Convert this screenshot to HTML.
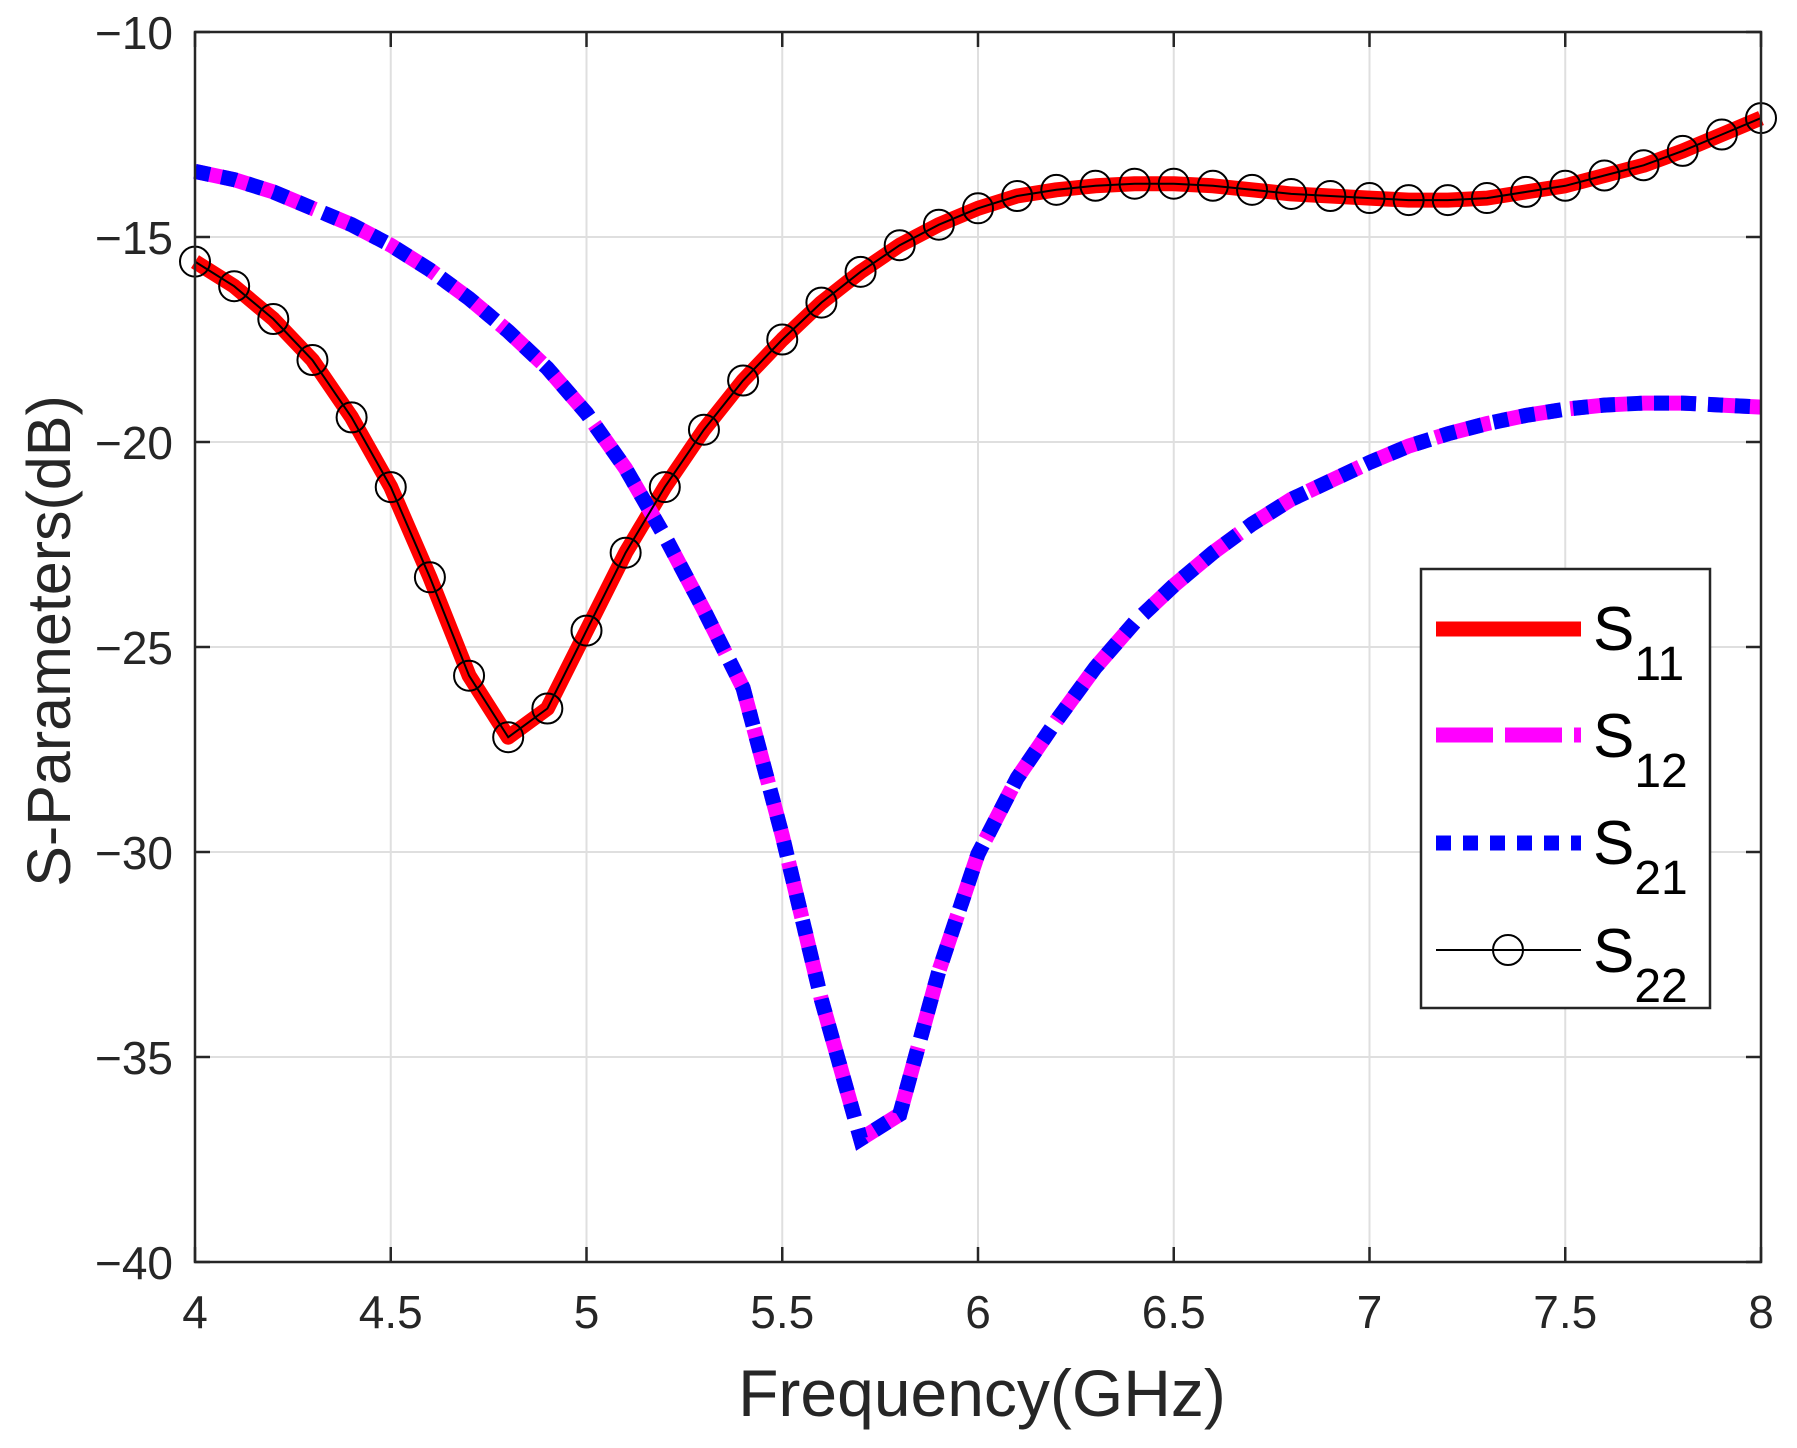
<!DOCTYPE html>
<html><head><meta charset="utf-8"><style>
body{margin:0;background:#fff}
svg{display:block;font-family:"Liberation Sans",Arial,sans-serif}
</style></head><body>
<svg id="chart" width="1797" height="1448" xmlns="http://www.w3.org/2000/svg">
<rect width="1797" height="1448" fill="#fff"/>
<g id="grid"></g>
<g id="series"></g>
<rect x="195" y="32" width="1566" height="1230" fill="none" stroke="#262626" stroke-width="2.5"/>
<g id="ticks"></g>
<text x="982" y="1416" font-size="66" text-anchor="middle" fill="#262626">Frequency(GHz)</text>
<text transform="translate(70,641) rotate(-90)" font-size="61" text-anchor="middle" fill="#262626">S-Parameters(dB)</text>
<g>
<rect x="1421" y="569" width="289" height="439" fill="#fff" stroke="#262626" stroke-width="2.5"/>
<g>
<line x1="1436" y1="629" x2="1581" y2="629" stroke="#ff0000" stroke-width="15"/>
<text x="1593" y="650" font-size="62" fill="#000">S<tspan font-size="48" dy="30">11</tspan></text></g>
<g>
<line x1="1436" y1="735" x2="1581" y2="735" stroke="#ff00ff" stroke-width="15" stroke-dasharray="57,12"/>
<text x="1593" y="757" font-size="62" fill="#000">S<tspan font-size="48" dy="30">12</tspan></text></g>
<g>
<line x1="1436" y1="843" x2="1581" y2="843" stroke="#0000ff" stroke-width="15" stroke-dasharray="15,12"/>
<text x="1593" y="864" font-size="62" fill="#000">S<tspan font-size="48" dy="30">21</tspan></text></g>
<g>
<line x1="1436" y1="950" x2="1581" y2="950" stroke="#000" stroke-width="2"/>
<circle cx="1508" cy="950" r="15" fill="none" stroke="#000" stroke-width="2"/>
<text x="1593" y="972" font-size="62" fill="#000">S<tspan font-size="48" dy="30">22</tspan></text></g>
</g>
</svg>
<script>
const freqs = [4.0,4.1,4.2,4.3,4.4,4.5,4.6,4.7,4.8,4.9,5.0,5.1,5.2,5.3,5.4,5.5,5.6,5.7,5.8,5.9,6.0,6.1,6.2,6.3,6.4,6.5,6.6,6.7,6.8,6.9,7.0,7.1,7.2,7.3,7.4,7.5,7.6,7.7,7.8,7.9,8.0];
const s11 = [-15.6,-16.2,-17.0,-18.0,-19.4,-21.1,-23.3,-25.7,-27.2,-26.5,-24.6,-22.7,-21.1,-19.7,-18.5,-17.5,-16.6,-15.85,-15.2,-14.7,-14.3,-14.0,-13.85,-13.75,-13.7,-13.7,-13.75,-13.85,-13.95,-14.0,-14.05,-14.1,-14.1,-14.05,-13.9,-13.75,-13.5,-13.25,-12.9,-12.5,-12.1];
const s21 = [-13.4,-13.6,-13.9,-14.3,-14.7,-15.2,-15.8,-16.5,-17.3,-18.2,-19.3,-20.65,-22.3,-24.1,-26.0,-29.6,-33.6,-37.0,-36.4,-32.9,-30.05,-28.2,-26.8,-25.5,-24.4,-23.5,-22.7,-22.0,-21.4,-20.95,-20.5,-20.1,-19.8,-19.55,-19.35,-19.2,-19.1,-19.05,-19.05,-19.1,-19.15];
const s12 = s21.slice();
const s22 = s11.slice();
const xTicks = [4,4.5,5,5.5,6,6.5,7,7.5,8];
const xTickLabels = ["4","4.5","5","5.5","6","6.5","7","7.5","8"];
const yTicks = [-10,-15,-20,-25,-30,-35,-40];
const yTickLabels = ["\u221210","\u221215","\u221220","\u221225","\u221230","\u221235","\u221240"];

const L=195,R=1761,T=32,B=1262;
const xs = v => L + (v-4)/(8-4)*(R-L);
const ys = v => T + (-10-v)/30*(B-T);
const NS="http://www.w3.org/2000/svg";
function mk(tag, attrs, parent){const e=document.createElementNS(NS,tag);for(const k in attrs)e.setAttribute(k,attrs[k]);parent.appendChild(e);return e;}
const grid=document.getElementById('grid'), ticks=document.getElementById('ticks'), ser=document.getElementById('series');
xTicks.forEach((v,i)=>{
  const g=mk('line',{x1:xs(v),x2:xs(v),y1:T,y2:B,stroke:'#dfdfdf','stroke-width':2},grid);
  
  
  const t1=mk('line',{x1:xs(v),x2:xs(v),y1:B,y2:B-15,stroke:'#262626','stroke-width':2.5},ticks);
  
  
  const t2=mk('line',{x1:xs(v),x2:xs(v),y1:T,y2:T+15,stroke:'#262626','stroke-width':2.5},ticks);
  
  
  const tx=mk('text',{x:xs(v),y:B+66,'font-size':46,'text-anchor':'middle',fill:'#262626'},ticks);
  tx.textContent=xTickLabels[i];
  
  
});
yTicks.forEach((v,i)=>{
  const g=mk('line',{x1:L,x2:R,y1:ys(v),y2:ys(v),stroke:'#dfdfdf','stroke-width':2},grid);
  
  
  const t1=mk('line',{x1:L,x2:L+15,y1:ys(v),y2:ys(v),stroke:'#262626','stroke-width':2.5},ticks);
  
  
  const t2=mk('line',{x1:R,x2:R-15,y1:ys(v),y2:ys(v),stroke:'#262626','stroke-width':2.5},ticks);
  
  
  const tx=mk('text',{x:173,y:ys(v)+17,'font-size':46,'text-anchor':'end',fill:'#262626'},ticks);
  tx.textContent=yTickLabels[i];
  
  
});
function pts(arr){return arr.map((v,i)=>xs(freqs[i]).toFixed(1)+','+ys(v).toFixed(1)).join(' ');}
const p1=mk('polyline',{points:pts(s11),fill:'none',stroke:'#ff0000','stroke-width':15,'stroke-linejoin':'round'},ser);


const p2=mk('polyline',{points:pts(s12),fill:'none',stroke:'#ff00ff','stroke-width':15,'stroke-dasharray':'57,12'},ser);


const p3=mk('polyline',{points:pts(s21),fill:'none',stroke:'#0000ff','stroke-width':15,'stroke-dasharray':'15,12'},ser);


const p4=mk('polyline',{points:pts(s22),fill:'none',stroke:'#000','stroke-width':2},ser);


s22.forEach((v,i)=>{
  const c=mk('circle',{cx:xs(freqs[i]),cy:ys(v),r:15,fill:'none',stroke:'#000','stroke-width':2},ser);
  
  
});
</script>
</body></html>
